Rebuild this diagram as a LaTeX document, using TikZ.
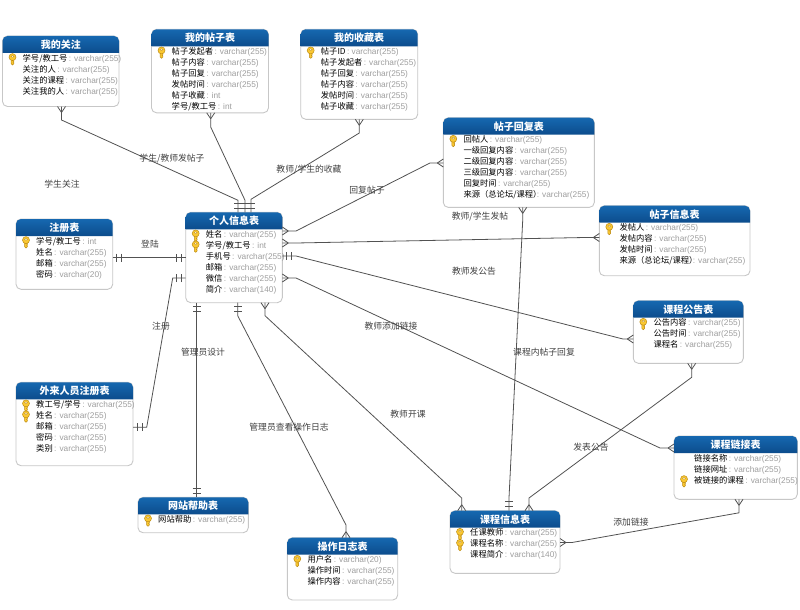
\documentclass[tikz,border=0pt]{standalone}
\usepackage{fontspec}
\setmainfont{Liberation Sans}
\newfontfamily\cjk{Noto Sans CJK SC}
\definecolor{bandtop}{RGB}{22,104,176}
\definecolor{bandbot}{RGB}{12,76,140}
\definecolor{keygold}{RGB}{250,200,50}
\definecolor{keyedge}{RGB}{190,140,20}
\pgfdeclarearrow{
  name=CrowFoot,
  setup code={\pgfarrowssettipend{0pt}\pgfarrowssetlineend{0pt}\pgfarrowssetbackend{-6pt}\pgfarrowssetvisualbackend{-6pt}},
  drawing code={
    \pgfpathmoveto{\pgfpoint{-6pt}{0pt}}\pgfpathlineto{\pgfpoint{0pt}{4pt}}
    \pgfpathmoveto{\pgfpoint{-6pt}{0pt}}\pgfpathlineto{\pgfpoint{0pt}{-4pt}}
    \pgfusepathqstroke},
}
\pgfdeclarearrow{
  name=DoubleBar,
  setup code={\pgfarrowssettipend{0pt}\pgfarrowssetlineend{0pt}\pgfarrowssetbackend{-9pt}\pgfarrowssetvisualbackend{-9pt}},
  drawing code={
    \pgfpathmoveto{\pgfpoint{-4pt}{-4pt}}\pgfpathlineto{\pgfpoint{-4pt}{4pt}}
    \pgfpathmoveto{\pgfpoint{-9pt}{-4pt}}\pgfpathlineto{\pgfpoint{-9pt}{4pt}}
    \pgfusepathqstroke},
}
\tikzset{
  tablebody/.style={draw=black!22,line width=.9pt,fill=white,rounded corners=5pt,anchor=north west,inner sep=0pt,outer sep=0pt},
  titleband/.style={top color=bandtop,bottom color=bandbot,draw=none},
  titletext/.style={text=white,font=\cjk\bfseries\fontsize{10}{10}\selectfont,inner sep=0pt},
  fieldtext/.style={anchor=west,inner sep=0pt,text height=6.5pt,text depth=1.5pt,font=\fontsize{8.3}{10}\selectfont},
  linktext/.style={text=black!75,font=\cjk\fontsize{8.8}{10}\selectfont,inner sep=0pt},
  link/.style={draw=black!68,line width=.8pt},
  onemany/.style={link,DoubleBar-CrowFoot},
  oneone/.style={link,DoubleBar-DoubleBar},
  manymany/.style={link,CrowFoot-CrowFoot},
  manyone/.style={link,CrowFoot-DoubleBar},
  keyicon/.pic={
    \fill[keygold,draw=keyedge,line width=.5pt] (-1.4,0) -- (-1.4,5) -- (0,6.3) -- (1.4,5) -- (1.4,4) -- (.6,3.4) -- (1.4,2.8) -- (1.4,0) -- cycle;
    \fill[keygold,draw=keyedge,line width=.5pt] (0,-1.6) circle (3.5);
    \fill[white,draw=keyedge,line width=.3pt] (0,-2.3) ellipse (1.6 and .9);
  },
}
\newcommand{\ertable}[6]{
  \node[tablebody,minimum width=#4pt,minimum height=#5pt] (#1) at (#2,#3) {};
  \shade[titleband] ([yshift=-17pt]#1.north west) [rounded corners=5pt] -- (#1.north west) -- (#1.north east) [sharp corners] -- ([yshift=-17pt]#1.north east) -- cycle;
  \node[titletext] (#1-title) at ([yshift=-8.7pt]#1.north) {#6};
}
\newcommand{\fieldrow}[4]{
  \node[fieldtext] (#1-#2) at ([shift={(20,{22.7+11*(#2-1)})}]#1.north west) {{\cjk #3}\textcolor{black!38}{\,: #4}};
}
\newcommand{\keyrow}[4]{
  \fieldrow{#1}{#2}{#3}{#4}
  \pic at ([shift={(10,{22.7+11*(#2-1)})}]#1.north west) {keyicon};
}
\newcommand{\vc}{varchar(255)}

\begin{document}
\begin{tikzpicture}[x=1pt,y=-1pt]
\useasboundingbox (0,0) rectangle (800,610);
% tables
\ertable{guanzhu}{2.5}{36}{116.5}{70.5}{我的关注}
\keyrow{guanzhu}{1}{学号/教工号}{\vc}\fieldrow{guanzhu}{2}{关注的人}{\vc}\fieldrow{guanzhu}{3}{关注的课程}{\vc}\fieldrow{guanzhu}{4}{关注我的人}{\vc}
\ertable{tiezi}{151.5}{29.3}{117}{83.5}{我的帖子表}
\keyrow{tiezi}{1}{帖子发起者}{\vc}\fieldrow{tiezi}{2}{帖子内容}{\vc}\fieldrow{tiezi}{3}{帖子回复}{\vc}\fieldrow{tiezi}{4}{发帖时间}{\vc}\fieldrow{tiezi}{5}{帖子收藏}{int}\fieldrow{tiezi}{6}{学号/教工号}{int}
\ertable{shoucang}{300.7}{29.3}{117}{90}{我的收藏表}
\keyrow{shoucang}{1}{帖子ID}{\vc}\fieldrow{shoucang}{2}{帖子发起者}{\vc}\fieldrow{shoucang}{3}{帖子回复}{\vc}\fieldrow{shoucang}{4}{帖子内容}{\vc}\fieldrow{shoucang}{5}{发帖时间}{\vc}\fieldrow{shoucang}{6}{帖子收藏}{\vc}
\ertable{huifu}{443.3}{117.7}{151}{89.7}{帖子回复表}
\keyrow{huifu}{1}{回帖人}{\vc}\fieldrow{huifu}{2}{一级回复内容}{\vc}\fieldrow{huifu}{3}{二级回复内容}{\vc}\fieldrow{huifu}{4}{三级回复内容}{\vc}\fieldrow{huifu}{5}{回复时间}{\vc}\fieldrow{huifu}{6}{来源（总论坛/课程）\kern-6pt}{\vc}
\ertable{xinxi}{599.3}{205.7}{150.7}{70}{帖子信息表}
\keyrow{xinxi}{1}{发帖人}{\vc}\fieldrow{xinxi}{2}{发帖内容}{\vc}\fieldrow{xinxi}{3}{发帖时间}{\vc}\fieldrow{xinxi}{4}{来源（总论坛/课程）\kern-6pt}{\vc}
\ertable{geren}{185.7}{212.3}{96.6}{90.4}{个人信息表}
\keyrow{geren}{1}{姓名}{\vc}\keyrow{geren}{2}{学号/教工号}{int}\fieldrow{geren}{3}{手机号}{\vc}\fieldrow{geren}{4}{邮箱}{\vc}\fieldrow{geren}{5}{微信}{\vc}\fieldrow{geren}{6}{简介}{varchar(140)}
\ertable{zhuce}{16}{219}{96.7}{70.3}{注册表}
\keyrow{zhuce}{1}{学号/教工号}{int}\fieldrow{zhuce}{2}{姓名}{\vc}\fieldrow{zhuce}{3}{邮箱}{\vc}\fieldrow{zhuce}{4}{密码}{varchar(20)}
\ertable{wailai}{16}{382.3}{117}{83.4}{外来人员注册表}
\keyrow{wailai}{1}{教工号/学号}{\vc}\keyrow{wailai}{2}{姓名}{\vc}\fieldrow{wailai}{3}{邮箱}{\vc}\fieldrow{wailai}{4}{密码}{\vc}\fieldrow{wailai}{5}{类别}{\vc}
\ertable{gonggao}{633.3}{300.7}{110}{62.6}{课程公告表}
\keyrow{gonggao}{1}{公告内容}{\vc}\fieldrow{gonggao}{2}{公告时间}{\vc}\fieldrow{gonggao}{3}{课程名}{\vc}
\ertable{lianjie}{674}{436}{123.3}{63.3}{课程链接表}
\fieldrow{lianjie}{1}{链接名称}{\vc}\fieldrow{lianjie}{2}{链接网址}{\vc}\keyrow{lianjie}{3}{被链接的课程}{\vc}
\ertable{kecheng}{450}{510.7}{110}{62.6}{课程信息表}
\keyrow{kecheng}{1}{任课教师}{\vc}\keyrow{kecheng}{2}{课程名称}{\vc}\fieldrow{kecheng}{3}{课程简介}{varchar(140)}
\ertable{bangzhu}{138}{497.3}{110.3}{35.4}{网站帮助表}
\keyrow{bangzhu}{1}{网站帮助}{\vc}
\ertable{rizhi}{287.3}{537.7}{110.4}{62.3}{操作日志表}
\keyrow{rizhi}{1}{用户名}{varchar(20)}\fieldrow{rizhi}{2}{操作时间}{\vc}\fieldrow{rizhi}{3}{操作内容}{\vc}
% connectors
\draw[onemany] ([xshift=52.3pt]geren.north west) -- ++(0,-12) -- (61.5,120) -- ([xshift=59pt]guanzhu.south west);
\draw[onemany] ([xshift=59.3pt]geren.north west) -- ++(0,-12) -- (210.7,127) -- ([xshift=59.2pt]tiezi.south west);
\draw[onemany] ([xshift=65.3pt]geren.north west) -- ++(0,-13) -- (359.3,133) -- ([xshift=58.6pt]shoucang.south west);
\draw[manymany] ([yshift=-18.7pt]geren.north east) -- ++(13.7,0) -- (430,163) -- ([yshift=-45.3pt]huifu.north west);
\draw[manymany] ([yshift=-30.7pt]geren.north east) -- ++(13.7,0) -- (585,237.5) -- ([yshift=-31.8pt]xinxi.north west);
\draw[onemany] ([yshift=-43.7pt]geren.north east) -- ++(13.7,0) -- (623,339) -- ([yshift=-38.3pt]gonggao.north west);
\draw[manymany] ([yshift=-65.7pt]geren.north east) -- ++(13.7,0) -- (660,448) -- ([yshift=-12pt]lianjie.north west);
\draw[manymany] ([xshift=79.3pt]geren.south west) -- ++(0,13) -- (461.7,498) -- ([xshift=11.7pt]kecheng.north west);
\draw[onemany] ([xshift=52pt]geren.south west) -- ++(0,13) -- (346,525) -- ([xshift=58.7pt]rizhi.north west);
\draw[oneone] ([xshift=11pt]geren.south west) -- ([xshift=58.7pt]bangzhu.north west);
\draw[oneone] ([yshift=-38.7pt]zhuce.north east) -- ([yshift=-45.4pt]geren.north west);
\draw[oneone] ([yshift=-45pt]wailai.north east) -- ++(13.7,0) -- (172.7,278) -- ([yshift=-65.7pt]geren.north west);
\draw[manyone] ([xshift=79.4pt]huifu.south west) -- ++(0,13) -- (509,498) -- ([xshift=59pt]kecheng.north west);
\draw[manymany] ([xshift=58.4pt]gonggao.south west) -- ++(0,14) -- (529,498) -- ([xshift=79pt]kecheng.north west);
\draw[manymany] ([xshift=65pt]lianjie.south west) -- ++(0,13.5) -- (572,542.5) -- ([yshift=-31.8pt]kecheng.north east);
% labels
\node[linktext] (l-fatie) at (172,159) {学生/教师发帖子};
\node[linktext] (l-guanzhu) at (62,184) {学生关注};
\node[linktext] (l-shoucang) at (309,170) {教师/学生的收藏};
\node[linktext] (l-huifu) at (367,190) {回复帖子};
\node[linktext] (l-faxin) at (480,217) {教师/学生发帖};
\node[linktext] (l-gonggao) at (474,271) {教师发公告};
\node[linktext] (l-denglu) at (150,244) {登陆};
\node[linktext] (l-zhuce) at (161,326) {注册};
\node[linktext] (l-sheji) at (203,352) {管理员设计};
\node[linktext] (l-lianjie) at (391,326) {教师添加链接};
\node[linktext] (l-neihui) at (544,352) {课程内帖子回复};
\node[linktext] (l-kaike) at (408,414) {教师开课};
\node[linktext] (l-rizhi) at (289,427) {管理员查看操作日志};
\node[linktext] (l-fabiao) at (591,447) {发表公告};
\node[linktext] (l-tianjia) at (631,522) {添加链接};
\end{tikzpicture}
\end{document}
